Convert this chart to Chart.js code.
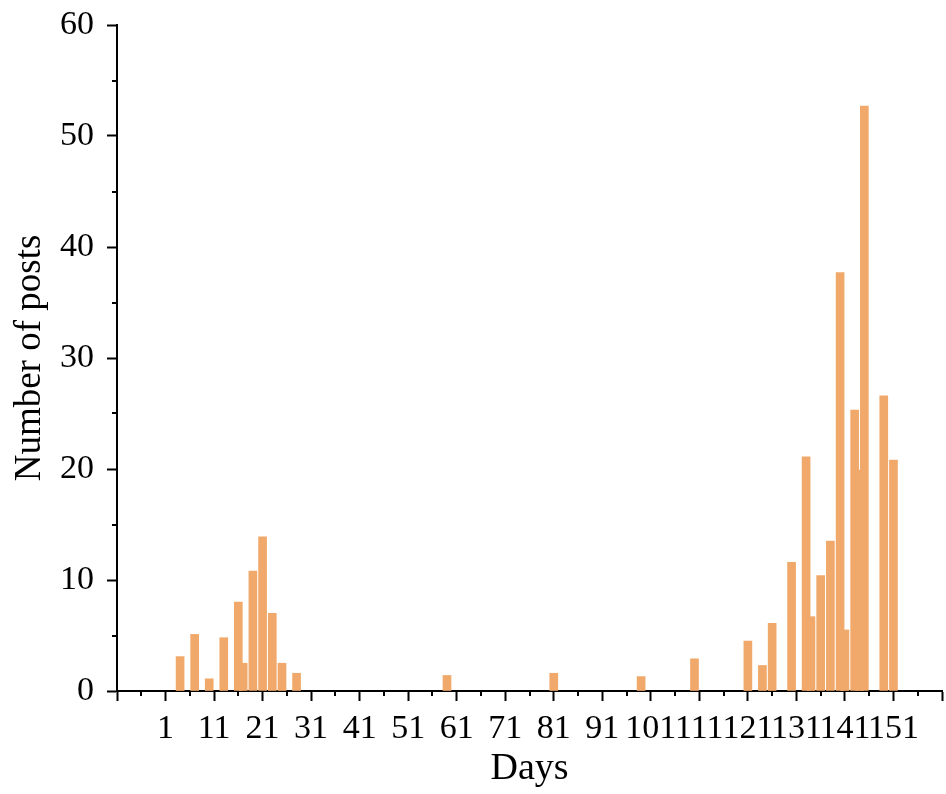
<!DOCTYPE html>
<html>
<head>
<meta charset="utf-8">
<script src="https://cdn.jsdelivr.net/npm/chart.js@4.4.0/dist/chart.umd.min.js"></script>
<style>
  html, body { margin: 0; padding: 0; background: #fff; }
</style>
</head>
<body>
<canvas id="postsChart" width="946" height="794"></canvas>
<script>
// Days that had posts, and how many posts on each of them
const days  = [4, 7, 10, 13, 16, 17, 19, 21, 23, 25, 28, 59, 81, 99, 110,
               121, 124, 126, 130, 133, 134, 136, 138, 140, 141, 143, 144, 145, 149, 151];
const posts = [3.1, 5.1, 1.1, 4.8, 8.0, 2.5, 10.8, 13.9, 7.0, 2.5, 1.6, 1.4, 1.6, 1.3, 2.9,
               4.5, 2.3, 6.1, 11.6, 21.1, 6.7, 10.4, 13.5, 37.7, 5.5, 25.3, 19.9, 52.7, 26.6, 20.8];

// Axis ticks (major ticks carry labels, minor ones are short marks only)
const xMajorTicks = [-9, 1, 11, 21, 31, 41, 51, 61, 71, 81, 91, 101, 111, 121, 131, 141, 151, 161];
const xTickLabels = [1, 11, 21, 31, 41, 51, 61, 71, 81, 91, 101, 111, 121, 131, 141, 151];
const xMinorTicks = [-4, 6, 16, 26, 36, 46, 56, 66, 76, 86, 96, 106, 116, 126, 136, 146, 156];
const yMajorTicks = [0, 10, 20, 30, 40, 50, 60];
const yMinorTicks = [5, 15, 25, 35, 45, 55];

const barColor = '#F0A96A';
const serif = "'Liberation Serif', 'DejaVu Serif', serif";

// Short minor tick marks, drawn through the scales
const minorTicks = {
    id: 'minorTicks',
    afterDraw(chart) {
        const { ctx, scales: { x, y } } = chart;
        ctx.save();
        ctx.strokeStyle = '#000';
        ctx.lineWidth = 2;
        ctx.beginPath();
        xMinorTicks.forEach(v => {
            const px = Math.round(x.getPixelForValue(v));
            ctx.moveTo(px, x.top);
            ctx.lineTo(px, x.top + 5);
        });
        yMinorTicks.forEach(v => {
            const py = Math.round(y.getPixelForValue(v));
            ctx.moveTo(y.right, py);
            ctx.lineTo(y.right - 5, py);
        });
        ctx.stroke();
        ctx.restore();
    }
};

const ctx = document.getElementById('postsChart').getContext('2d');
new Chart(ctx, {
    type: 'bar',
    data: {
        datasets: [{
            data: days.map((d, i) => ({ x: d, y: posts[i] })),
            backgroundColor: barColor,
            borderWidth: 0,
            barThickness: 8
        }]
    },
    options: {
        responsive: false,
        animation: false,
        layout: { padding: { left: 6, right: 4, top: 25, bottom: 0 } },
        plugins: {
            legend: { display: false },
            tooltip: { enabled: false }
        },
        scales: {
            x: {
                type: 'linear',
                min: -9,
                max: 161,
                offset: false,
                afterBuildTicks: s => { s.ticks = xMajorTicks.map(v => ({ value: v })); },
                afterFit: s => { s.height = 103; s.paddingLeft = 0; s.paddingRight = 0; },
                ticks: {
                    autoSkip: false,
                    maxRotation: 0,
                    color: '#000',
                    padding: 8,
                    font: { family: serif, size: 34 },
                    callback: v => xTickLabels.includes(v) ? String(v) : ''
                },
                grid: { offset: false, drawOnChartArea: false, tickLength: 10, tickWidth: 2, tickColor: '#000' },
                border: { color: '#000', width: 2 },
                title: {
                    display: true,
                    text: 'Days',
                    color: '#000',
                    font: { family: serif, size: 38 },
                    padding: { top: 0, bottom: 2 }
                }
            },
            y: {
                min: 0,
                max: 60,
                afterBuildTicks: s => { s.ticks = yMajorTicks.map(v => ({ value: v })); },
                afterFit: s => { s.width = 111; s.paddingTop = 0; s.paddingBottom = 0; },
                ticks: {
                    color: '#000',
                    padding: 13,
                    font: { family: serif, size: 34 }
                },
                grid: { drawOnChartArea: false, tickLength: 10, tickWidth: 2, tickColor: '#000' },
                border: { color: '#000', width: 2 },
                title: {
                    display: true,
                    text: 'Number of posts',
                    color: '#000',
                    font: { family: serif, size: 37 },
                    padding: { top: 2, bottom: 0 }
                }
            }
        }
    },
    plugins: [minorTicks]
});
</script>
</body>
</html>
